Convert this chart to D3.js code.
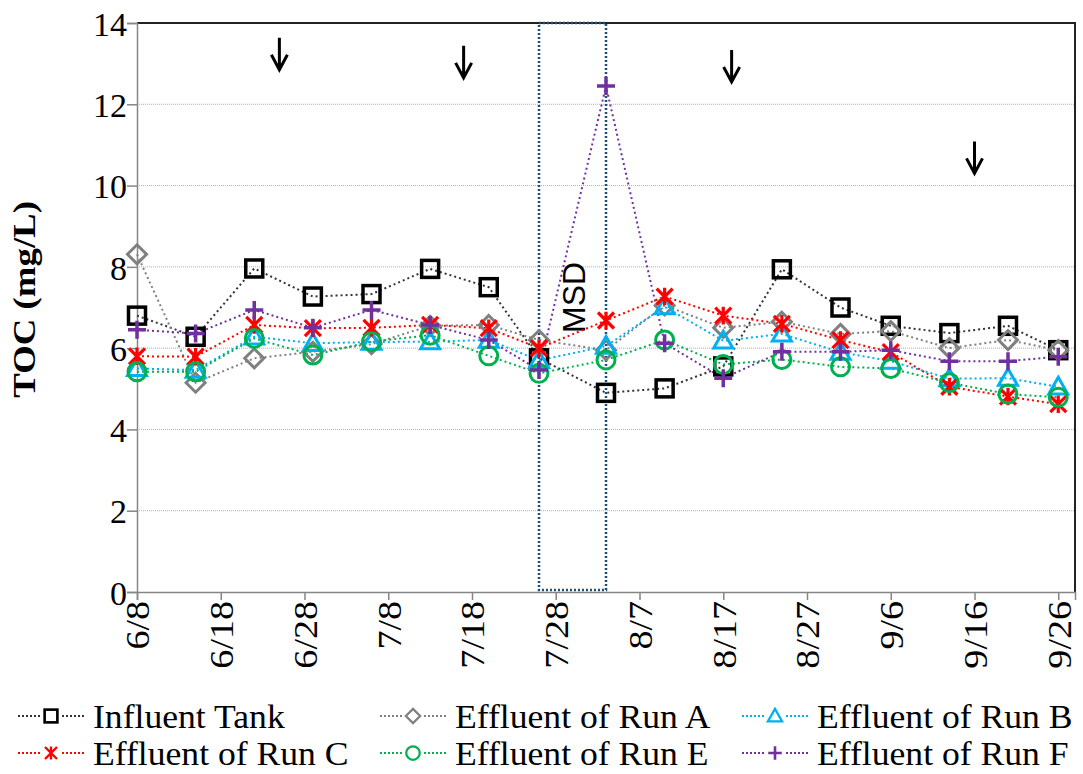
<!DOCTYPE html>
<html>
<head>
<meta charset="utf-8">
<script src="https://cdn.jsdelivr.net/npm/d3@7"></script>
<style>
  body { margin: 0; background: #fff; }
  svg { display: block; }
</style>
</head>
<body>
<div id="chart"></div>
<script>
// sample dates (2015 season, year not shown) and TOC values in mg/L
const sampleDates = ["6/8", "6/15", "6/22", "6/29", "7/6", "7/13", "7/20", "7/26", "8/3",
  "8/10", "8/17", "8/24", "8/31", "9/6", "9/13", "9/20", "9/26"];
const influentTank = [6.8, 6.28, 7.96, 7.27, 7.33, 7.95, 7.5, 5.75, 4.9, 5.01, 5.55, 7.94, 7.0, 6.55, 6.37, 6.55, 5.95];
const runA = [8.31, 5.15, 5.75, 5.91, 6.1, 6.55, 6.57, 6.2, 5.95, 7.05, 6.5, 6.65, 6.35, 6.42, 6.0, 6.2, 5.95];
const runB = [5.5, 5.46, 6.28, 6.12, 6.15, 6.16, 6.2, 5.7, 6.05, 7.02, 6.18, 6.35, 5.9, 5.68, 5.25, 5.26, 5.05];
const runC = [5.8, 5.79, 6.57, 6.49, 6.5, 6.57, 6.49, 6.0, 6.68, 7.27, 6.8, 6.6, 6.2, 5.9, 5.05, 4.81, 4.62];
const runE = [5.42, 5.42, 6.24, 5.83, 6.16, 6.32, 5.81, 5.38, 5.71, 6.2, 5.6, 5.72, 5.54, 5.5, 5.15, 4.87, 4.79];
const runF = [6.45, 6.36, 6.94, 6.5, 6.94, 6.57, 6.2, 5.46, 12.45, 6.12, 5.26, 5.91, 5.91, 5.95, 5.68, 5.68, 5.79];

const xTickLabels = ["6/8", "6/18", "6/28", "7/8", "7/18", "7/28", "8/7", "8/17", "8/27", "9/6", "9/16", "9/26"];
const yTickValues = [0, 2, 4, 6, 8, 10, 12, 14];
const xDomain = ["6/8", "9/28"];

// MSD period and the down arrows (date, value at arrow tip)
const msdPeriod = ["7/26", "8/3"];
const arrowDates = ["6/25", "7/17", "8/18", "9/16"];
const arrowTips = [12.85, 12.65, 12.55, 10.3];

const seriesNames = ["Influent Tank", "Effluent of Run A", "Effluent of Run B",
  "Effluent of Run C", "Effluent of Run E", "Effluent of Run F"];
const seriesValues = [influentTank, runA, runB, runC, runE, runF];

const colors = ["#000000", "#808080", "#00b0f0", "#ff0000", "#00b050", "#7030a0"];
const lineColors = ["#333333", "#808080", "#00b0f0", "#ff0000", "#00b050", "#7030a0"];
const shapes = ["square", "diamond", "triangle", "asterisk", "circle", "plus"];

function parseDay(s) {
  const [m, d] = s.split("/").map(Number);
  return new Date(Date.UTC(2015, m - 1, d));
}

const W = 1083, H = 774;
const margin = { top: 23, right: 8, bottom: 182, left: 137 };
const width = W - margin.left - margin.right,
  height = H - margin.top - margin.bottom;

const svg = d3.select("#chart")
  .append("svg")
  .attr("width", W)
  .attr("height", H)
  .style("font-family", "'Liberation Serif', 'Times New Roman', serif");

const g = svg.append("g")
  .attr("transform", `translate(${margin.left}, ${margin.top})`);

const x = d3.scaleUtc()
  .domain(xDomain.map(parseDay))
  .range([0, width]);

const y = d3.scaleLinear()
  .domain([0, 14])
  .range([height, 0]);

// gridlines
g.append("g")
  .selectAll("line")
  .data(yTickValues.filter(v => v > 0 && v < 14))
  .join("line")
  .attr("x1", 0)
  .attr("x2", width)
  .attr("y1", d => y(d))
  .attr("y2", d => y(d))
  .attr("stroke", "#b0b0b0")
  .attr("stroke-width", 1)
  .attr("stroke-dasharray", "1,1");

// frame: top and right edges
g.append("path")
  .attr("d", `M0,${y(14)}H${width}V${height}`)
  .attr("fill", "none")
  .attr("stroke", "#222")
  .attr("stroke-width", 2);

// x axis
const xAxis = g.append("g")
  .attr("transform", `translate(0, ${height})`)
  .call(d3.axisBottom(x)
    .tickValues(xTickLabels.map(parseDay))
    .tickFormat(d3.utcFormat("%-m/%-d"))
    .tickSize(8));
xAxis.select(".domain").attr("stroke", "#868686").attr("stroke-width", 1.5);
xAxis.selectAll(".tick line").attr("stroke", "#868686").attr("stroke-width", 1.5);
xAxis.selectAll("text")
  .attr("transform", "rotate(-90) scale(1.12, 1)")
  .attr("text-anchor", "end")
  .attr("x", -8)
  .attr("y", 0)
  .attr("dy", "0.35em")
  .attr("fill", "#000")
  .style("font-family", "'Liberation Serif', serif")
  .style("font-size", "34px");

// y axis
const yAxis = g.append("g")
  .call(d3.axisLeft(y)
    .tickValues(yTickValues)
    .tickSize(10)
    .tickPadding(0));
yAxis.select(".domain").attr("stroke", "#868686").attr("stroke-width", 1.5);
yAxis.selectAll(".tick line").attr("stroke", "#868686").attr("stroke-width", 1.5);
yAxis.selectAll("text")
  .attr("fill", "#000")
  .attr("dy", "0.36em")
  .style("font-family", "'Liberation Serif', serif")
  .style("font-size", "34px");

// y label
svg.append("text")
  .attr("transform", `translate(35, ${margin.top + y(7.2)}) rotate(-90) scale(1.15, 1)`)
  .attr("text-anchor", "middle")
  .style("font-size", "32px")
  .style("font-weight", "bold")
  .text("TOC (mg/L)");

// MSD box
const msdX0 = x(parseDay(msdPeriod[0])), msdX1 = x(parseDay(msdPeriod[1]));
g.append("rect")
  .attr("x", msdX0)
  .attr("y", y(14))
  .attr("width", msdX1 - msdX0)
  .attr("height", y(0.05) - y(14))
  .attr("fill", "none")
  .attr("stroke", "#1f4e79")
  .attr("stroke-width", 2.5)
  .attr("stroke-dasharray", "2,2");

g.append("text")
  .attr("transform", `translate(${(msdX0 + msdX1) / 2 + 12}, ${y(7.25)}) rotate(-90)`)
  .attr("text-anchor", "middle")
  .style("font-family", "'Liberation Sans', Arial, sans-serif")
  .style("font-size", "32px")
  .text("MSD");

// arrows
arrowDates.forEach((d, i) => {
  const ax = x(parseDay(d)), ay = y(arrowTips[i]);
  g.append("path")
    .attr("d", `M${ax},${ay - 32}V${ay}M${ax - 8},${ay - 15}L${ax},${ay}L${ax + 8},${ay - 15}`)
    .attr("fill", "none")
    .attr("stroke", "#000")
    .attr("stroke-width", 3);
});

// marker drawing
function marker(sel, shape, color, s) {
  const k = s || 1;
  if (shape === "square") {
    sel.append("rect").attr("x", -8.5 * k).attr("y", -8.5 * k)
      .attr("width", 17 * k).attr("height", 17 * k)
      .attr("fill", "none").attr("stroke", color).attr("stroke-width", 3.5 * k);
  } else if (shape === "diamond") {
    const r = 9.5 * k;
    sel.append("path").attr("d", `M0,${-r}L${r},0L0,${r}L${-r},0Z`)
      .attr("fill", "none").attr("stroke", color).attr("stroke-width", 3 * k);
  } else if (shape === "triangle") {
    const r = 9.5 * k;
    sel.append("path").attr("d", `M0,${-r}L${r},${r * 0.75}L${-r},${r * 0.75}Z`)
      .attr("fill", "none").attr("stroke", color).attr("stroke-width", 3 * k);
  } else if (shape === "circle") {
    sel.append("circle").attr("r", 9 * k)
      .attr("fill", "none").attr("stroke", color).attr("stroke-width", 3 * k);
  } else if (shape === "asterisk") {
    const r = 8 * k;
    sel.append("path").attr("d", `M${-r},${-r}L${r},${r}M${r},${-r}L${-r},${r}M0,${-r * 1.1}V${r * 1.1}`)
      .attr("fill", "none").attr("stroke", color).attr("stroke-width", 3.2 * k);
  } else if (shape === "plus") {
    const r = 9 * k;
    sel.append("path").attr("d", `M${-r},0H${r}M0,${-r}V${r}`)
      .attr("fill", "none").attr("stroke", color).attr("stroke-width", 3.5 * k);
  }
}

const line = d3.line()
  .x((d, i) => x(parseDay(sampleDates[i])))
  .y(d => y(d));

seriesValues.forEach((vals, si) => {
  g.append("path")
    .datum(vals)
    .attr("d", line)
    .attr("fill", "none")
    .attr("stroke", lineColors[si])
    .attr("stroke-width", 2)
    .attr("stroke-dasharray", "2,3");
});

seriesValues.forEach((vals, si) => {
  g.append("g")
    .selectAll("g")
    .data(vals)
    .join("g")
    .attr("transform", (d, i) => `translate(${x(parseDay(sampleDates[i]))}, ${y(d)})`)
    .each(function () { marker(d3.select(this), shapes[si], colors[si]); });
});

// legend
const legendCols = [18, 380, 742];
const legendRows = [716, 753];
seriesNames.forEach((name, i) => {
  const lx = legendCols[i % 3], ly = legendRows[Math.floor(i / 3)];
  const lg = svg.append("g").attr("transform", `translate(${lx}, ${ly})`);
  lg.append("line")
    .attr("x1", 0).attr("x2", 68)
    .attr("stroke", lineColors[i])
    .attr("stroke-width", 2)
    .attr("stroke-dasharray", "2,2");
  const m = lg.append("g").attr("transform", "translate(33, 0)");
  m.append("rect").attr("x", -9).attr("y", -9).attr("width", 18).attr("height", 18).attr("fill", "#fff");
  marker(m, shapes[i], colors[i], 0.75);
  lg.append("text")
    .attr("transform", "translate(75, 0) scale(1.08, 1)")
    .attr("dy", "0.35em")
    .style("font-size", "33px")
    .text(name);
});
</script>
</body>
</html>
